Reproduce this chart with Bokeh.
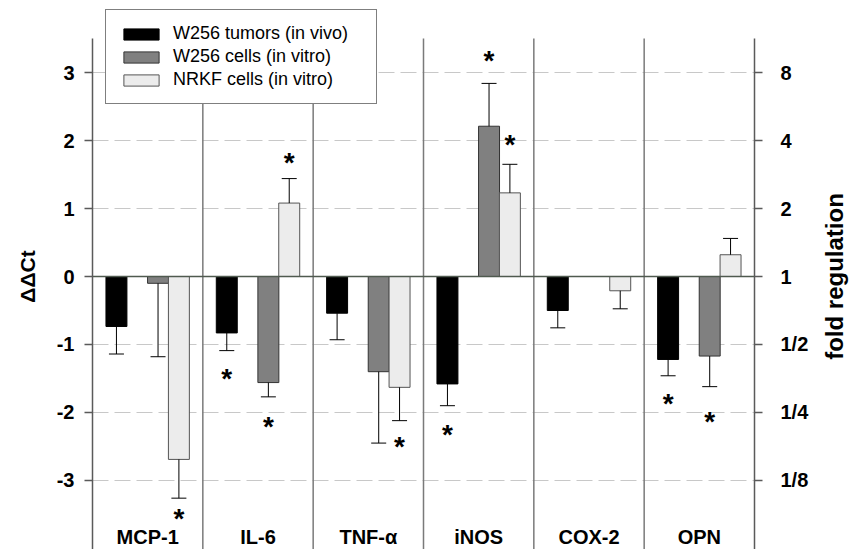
import math
from bokeh.plotting import figure
from bokeh.layouts import row
from bokeh.models import (Range1d, LinearAxis, FixedTicker, Legend, LegendItem,
                          ColumnDataSource)
from bokeh.core.properties import value
from bokeh.embed import file_html
from bokeh.resources import INLINE

nan = float("nan")

# ---------------- data ----------------
genes = ["MCP-1", "IL-6", "TNF-\u03b1", "iNOS", "COX-2", "OPN"]
series_names = ["W256 tumors (in vivo)", "W256 cells (in vitro)", "NRKF cells (in vitro)"]
tumor_vals = [-0.735, -0.83, -0.54, -1.58, -0.50, -1.22]
tumor_err = [0.405, 0.26, 0.39, 0.32, 0.255, 0.24]
w256_vals = [-0.10, -1.56, -1.40, 2.21, nan, -1.17]
w256_err = [1.08, 0.21, 1.05, 0.63, nan, 0.45]
nrkf_vals = [-2.69, 1.08, -1.63, 1.23, -0.21, 0.32]
nrkf_err = [0.57, 0.36, 0.49, 0.42, 0.265, 0.24]

star_gene = ["MCP-1", "IL-6", "IL-6", "IL-6", "TNF-\u03b1", "iNOS", "iNOS", "iNOS", "OPN", "OPN"]
star_series = [2, 0, 1, 2, 2, 0, 1, 2, 0, 1]
star_y = [-3.51, -1.46, -2.16, 1.72, -2.46, -2.28, 3.22, 1.98, -1.82, -2.09]

dct_ticks = [-3, -2, -1, 0, 1, 2, 3]
dct_labels = ["-3", "-2", "-1", "0", "1", "2", "3"]
fold_labels = ["1/8", "1/4", "1/2", "1", "2", "4", "8"]
axis_top = 3.5
left_title = "\u0394\u0394Ct"
right_title = "fold regulation"

# ---------------- style ----------------
FONT = "Liberation Sans"
offsets = [-0.283, 0.094, 0.283]
bar_w = 0.19
cap_half = 0.068
fills = ["#000000", "#808080", "#ececec"]
outlines = ["#000000", "#333333", "#555555"]
axis_col = "#5a5a5a"

Y_TOP = 4.015
Y_BOT = -4.015
yr = Range1d(Y_BOT, Y_TOP)

p = figure(width=815, height=549, output_backend="svg", toolbar_location=None,
           x_range=Range1d(0, len(genes)), y_range=yr,
           min_border_left=92, min_border_right=61, min_border_top=3, min_border_bottom=0,
           x_axis_location=None, y_axis_location=None)
p.outline_line_color = None
p.background_fill_color = "white"
p.border_fill_color = "white"
p.xgrid.visible = False


def style_axis(ax):
    ax.ticker = FixedTicker(ticks=dct_ticks)
    ax.bounds = (Y_BOT, axis_top)
    ax.minor_tick_line_color = None
    ax.major_tick_out = 8
    ax.major_tick_in = 0
    ax.major_tick_line_color = axis_col
    ax.major_tick_line_width = 1.5
    ax.axis_line_color = axis_col
    ax.axis_line_width = 1.5
    ax.major_label_text_font = FONT
    ax.major_label_text_font_style = "bold"
    ax.major_label_text_font_size = "20px"
    ax.major_label_text_color = "black"
    ax.axis_label_text_font = FONT
    ax.axis_label_text_font_style = "bold"
    ax.axis_label_text_color = "black"


left = LinearAxis(axis_label=left_title)
style_axis(left)
left.major_label_standoff = 10
left.axis_label_standoff = 15
left.axis_label_text_font_size = "21px"
left.major_label_overrides = {t: lab for t, lab in zip(dct_ticks, dct_labels)}
p.add_layout(left, "left")

right = LinearAxis()
style_axis(right)
right.major_label_standoff = 18
right.major_label_overrides = {t: lab for t, lab in zip(dct_ticks, fold_labels)}
p.add_layout(right, "right")

p.ygrid.ticker = FixedTicker(ticks=dct_ticks)
p.ygrid.grid_line_color = "#c8c8c8"
p.ygrid.grid_line_dash = "16 6"
p.ygrid.grid_line_width = 1

# group separators
seps = list(range(1, len(genes)))
p.segment(x0=seps, y0=[Y_BOT] * len(seps), x1=seps, y1=[axis_top] * len(seps),
          line_color="#7a7a7a", line_width=1.5)

# bars and error bars
all_vals = [tumor_vals, w256_vals, nrkf_vals]
all_errs = [tumor_err, w256_err, nrkf_err]
renderers = []
for s, (vals, errs) in enumerate(zip(all_vals, all_errs)):
    xs = [i + 0.5 + offsets[s] for i in range(len(genes))]
    src = ColumnDataSource(dict(x=xs, top=vals))
    r = p.vbar(x="x", top="top", bottom=0, width=bar_w, source=src,
               fill_color=fills[s], line_color=outlines[s], line_width=1)
    renderers.append(r)
    tips = []
    for v, e in zip(vals, errs):
        if math.isnan(v) or math.isnan(e):
            tips.append(nan)
        else:
            tips.append(v + (e if v >= 0 else -e))
    p.segment(x0=xs, y0=vals, x1=xs, y1=tips, line_color="black", line_width=1)
    p.segment(x0=[x - cap_half for x in xs], y0=tips, x1=[x + cap_half for x in xs], y1=tips,
              line_color="black", line_width=1)

# zero line
p.segment(x0=[0], y0=[0], x1=[len(genes)], y1=[0], line_color="#4f5a4f", line_width=1.5)

# significance stars
sx = [genes.index(g) + 0.5 + offsets[s] for g, s in zip(star_gene, star_series)]
p.text(x=sx, y=star_y, text=["*"] * len(sx), text_font=value(FONT), text_font_style="bold",
       text_font_size="28px", text_align="center", text_baseline="alphabetic",
       y_offset=3, text_color="black")

# category labels inside the frame bottom
p.text(x=[i + 0.5 for i in range(len(genes))], y=[Y_BOT] * len(genes), text=genes,
       text_font=value(FONT), text_font_style="bold", text_font_size="20px",
       text_align="center", text_baseline="alphabetic", y_offset=-13, text_color="black")

legend = Legend(items=[LegendItem(label=n, renderers=[r]) for n, r in zip(series_names, renderers)],
                location=(13, 445))
legend.label_text_font = FONT
legend.label_text_font_size = "18px"
legend.label_text_color = "black"
legend.glyph_width = 44
legend.glyph_height = 14
legend.label_standoff = 10
legend.label_height = 20
legend.label_width = 190
legend.spacing = 2
legend.padding = 13
legend.margin = 0
legend.border_line_color = "black"
legend.border_line_width = 1
legend.background_fill_alpha = 1
p.add_layout(legend, "center")

# right-hand axis title in a narrow companion panel (reads bottom-to-top)
q = figure(width=36, height=549, output_backend="svg", toolbar_location=None,
           x_range=Range1d(0, 1), y_range=yr,
           min_border_left=0, min_border_right=0, min_border_top=3, min_border_bottom=0,
           x_axis_location=None, y_axis_location=None)
q.outline_line_color = None
q.xgrid.visible = False
q.ygrid.visible = False
q.background_fill_color = "white"
q.border_fill_color = "white"
q.text(x=[0.52], y=[0], text=[right_title], angle=math.pi / 2,
       text_font=value(FONT), text_font_style="bold", text_font_size="24px",
       text_align="center", text_baseline="middle", text_color="black")

layout = row(p, q, spacing=0)
open("out.html", "w").write(file_html(layout, INLINE))
